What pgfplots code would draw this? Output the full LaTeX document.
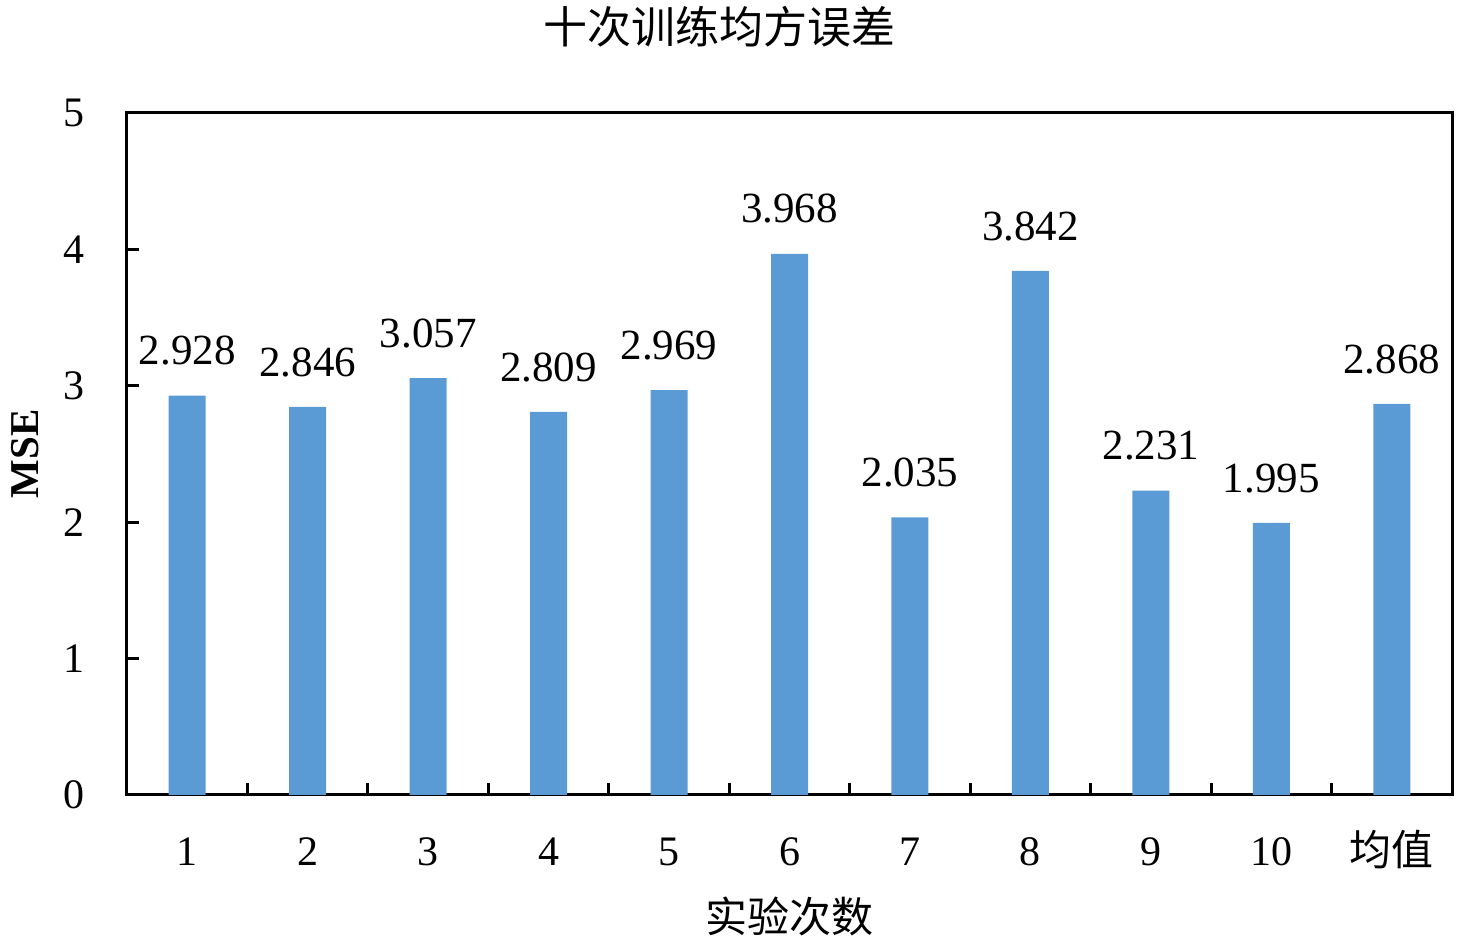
\documentclass[border=0pt]{standalone}
\usepackage{pgfplots}
\pgfplotsset{compat=1.18}
\usepackage{fontspec}
\setmainfont{Liberation Serif}
\newfontfamily\cjk{Noto Sans CJK SC}

\definecolor{barblue}{RGB}{91,155,213}

\begin{document}
\begin{tikzpicture}
\begin{axis}[
    scale only axis,
    width=662.5pt,
    height=341pt,
    line width=1.5pt,
    xmin=-0.5, xmax=10.5,
    ymin=0, ymax=5,
    ytick={0,1,2,3,4,5},
    xtick={-0.5,0.5,...,10.5},
    x tick label as interval,
    xticklabels={1,2,3,4,5,6,7,8,9,10,{\cjk 均值}},
    major tick length=6pt,
    tick align=inside,
    tick pos=left,
    tick style={black, line width=1.5pt},
    /pgf/number format/assume math mode=true,
    ticklabel style={font=\fontsize{21}{24}\selectfont},
    xticklabel style={anchor=base, yshift=-35.5pt},
    yticklabel style={xshift=-17pt},
    xlabel={\cjk 实验次数},
    xlabel style={at={(axis description cs:0.5,-0.1804)}, anchor=center, inner sep=0pt, text height=16pt, text depth=2pt, font=\fontsize{21}{24}\selectfont},
    ylabel={\textbf{MSE}},
    ylabel style={at={(axis description cs:-0.077,0.5)}, anchor=center, font=\fontsize{20.5}{24}\selectfont},
    title={\cjk 十次训练均方误差},
    title style={at={(axis description cs:0.4475,1.107)}, anchor=center, inner sep=0pt, text height=17pt, text depth=2pt, font=\fontsize{22}{26}\selectfont},
    clip=false,
    nodes near coords,
    point meta=explicit symbolic,
    every node near coord/.append style={font=\fontsize{21.5}{24}\selectfont, yshift=11pt, black},
]
\addplot[ybar, bar width=18.5pt, fill=barblue, draw=none] coordinates {
    (0,2.928) [2.928]
    (1,2.846) [2.846]
    (2,3.057) [3.057]
    (3,2.809) [2.809]
    (4,2.969) [2.969]
    (5,3.968) [3.968]
    (6,2.035) [2.035]
    (7,3.842) [3.842]
    (8,2.231) [2.231]
    (9,1.995) [1.995]
    (10,2.868) [2.868]
};
\end{axis}
\path (-63.5pt,-75pt) rectangle (666.5pt,397.5pt);
\end{tikzpicture}
\end{document}
